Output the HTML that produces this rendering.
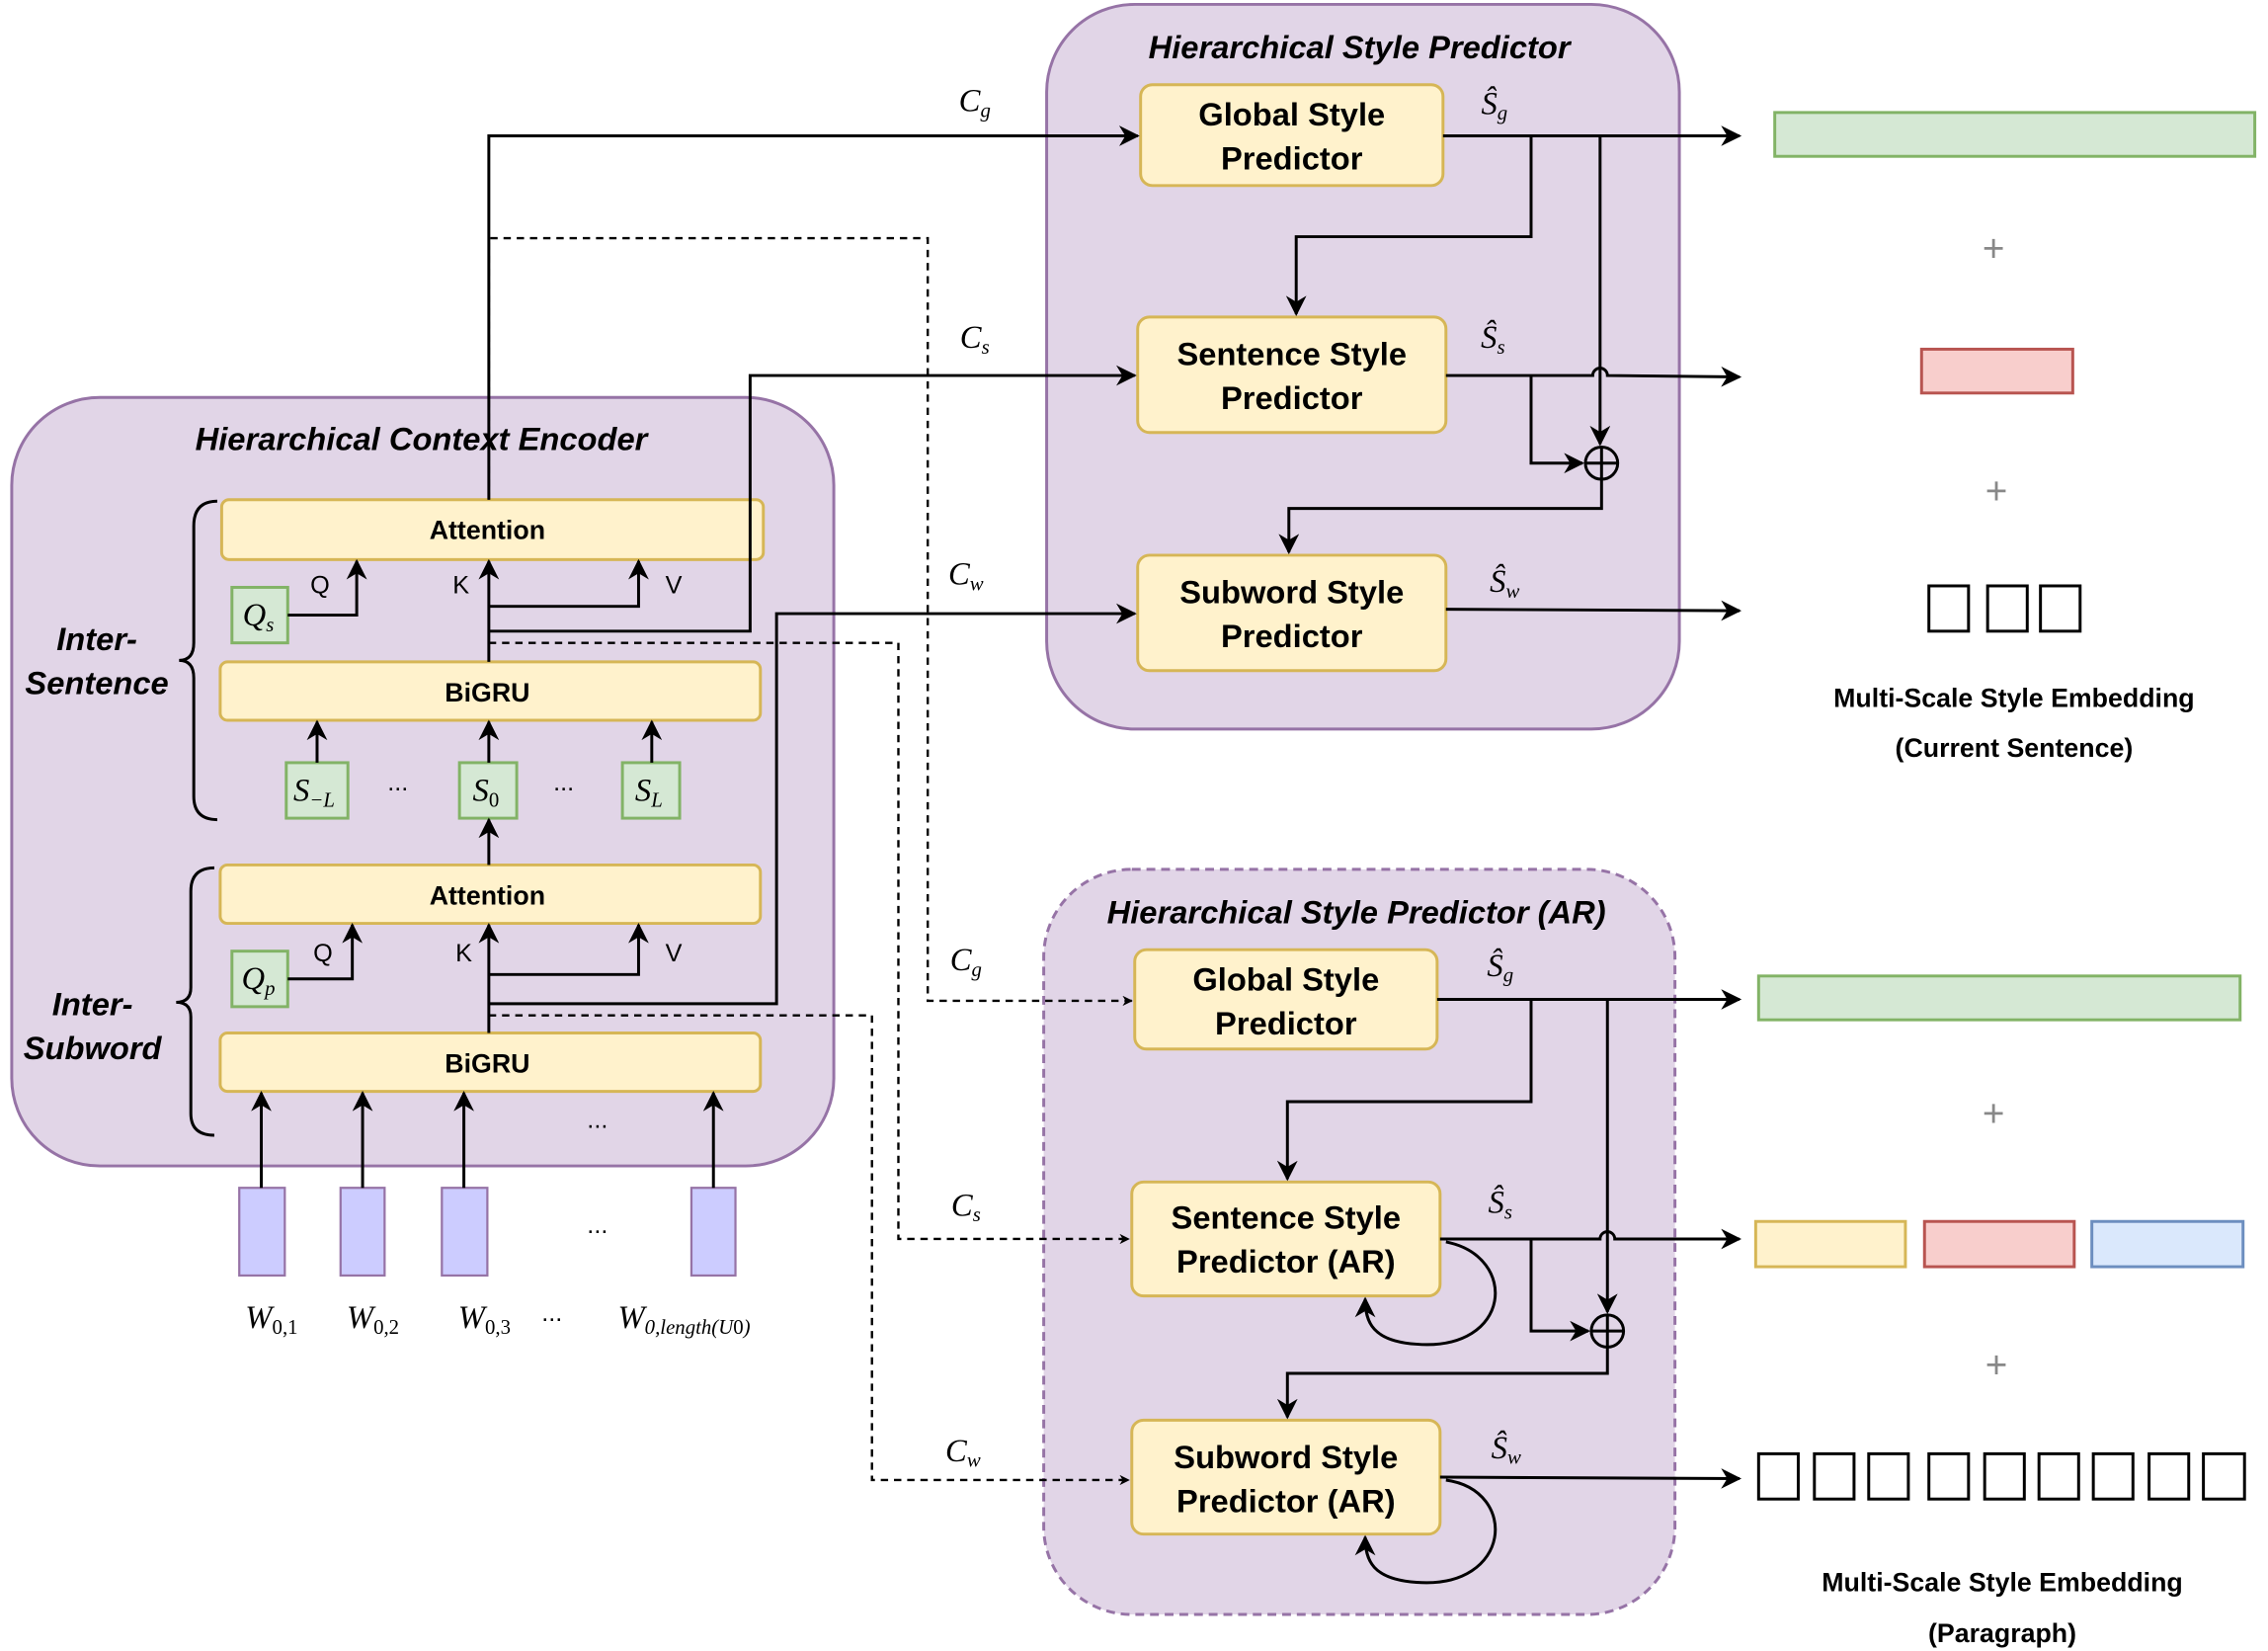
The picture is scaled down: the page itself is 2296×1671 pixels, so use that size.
<!DOCTYPE html>
<html><head><meta charset="utf-8"><style>
html,body{margin:0;padding:0;background:#fff}
svg{display:block}
.b{font-family:"Liberation Sans",sans-serif;font-weight:bold}
.m{font-family:"Liberation Serif",serif;font-style:italic}
</style></head><body>
<svg width="2296" height="1671" viewBox="0 0 1545 1130" preserveAspectRatio="none" xmlns="http://www.w3.org/2000/svg">
<defs>
<marker id="a" viewBox="0 0 10 10" refX="9" refY="5" markerWidth="7" markerHeight="7" orient="auto" markerUnits="userSpaceOnUse"><path d="M0,0 L10,5 L0,10 L3,5 z" fill="#000"/></marker>
<marker id="A" viewBox="0 0 10 10" refX="9" refY="5" markerWidth="14" markerHeight="14" orient="auto" markerUnits="userSpaceOnUse"><path d="M0,0 L10,5 L0,10 L3,5 z" fill="#000"/></marker>
</defs>
<g fill="#e1d5e7" stroke="#9673a6" stroke-width="2">
<rect x="8" y="272" width="560" height="526" rx="60"/>
<rect x="713" y="3" width="431" height="496" rx="60"/>
<rect x="711" y="595" width="430" height="510" rx="60" stroke-dasharray="6,4"/>
</g>
<g class="b" font-style="italic" font-size="22" text-anchor="middle">
<text x="287" y="308">Hierarchical Context Encoder</text>
<text x="926" y="40">Hierarchical Style Predictor</text>
<text x="924" y="632">Hierarchical Style Predictor (AR)</text>
<text x="66" y="445">Inter-</text><text x="66" y="475">Sentence</text>
<text x="63" y="695">Inter-</text><text x="63" y="725">Subword</text>
</g>
<g fill="#fff2cc" stroke="#d6b656" stroke-width="2">
<rect x="151" y="342" width="369" height="41" rx="5"/>
<rect x="150" y="453" width="368" height="40" rx="5"/>
<rect x="150" y="592" width="368" height="40" rx="5"/>
<rect x="150" y="707" width="368" height="40" rx="5"/>
<rect x="777" y="58" width="206" height="69" rx="8"/>
<rect x="775" y="217" width="210" height="79" rx="8"/>
<rect x="775" y="380" width="210" height="79" rx="8"/>
<rect x="773" y="650" width="206" height="68" rx="8"/>
<rect x="771" y="809" width="210" height="78" rx="8"/>
<rect x="771" y="972" width="210" height="78" rx="8"/>
</g>
<g class="b" font-size="18" text-anchor="middle">
<text x="332" y="369">Attention</text><text x="332" y="480">BiGRU</text>
<text x="332" y="619">Attention</text><text x="332" y="734">BiGRU</text>
</g>
<g class="b" font-size="22" text-anchor="middle">
<text x="880" y="86">Global Style</text><text x="880" y="116">Predictor</text>
<text x="880" y="250">Sentence Style</text><text x="880" y="280">Predictor</text>
<text x="880" y="413">Subword Style</text><text x="880" y="443">Predictor</text>
<text x="876" y="678">Global Style</text><text x="876" y="708">Predictor</text>
<text x="876" y="841">Sentence Style</text><text x="876" y="871">Predictor (AR)</text>
<text x="876" y="1005">Subword Style</text><text x="876" y="1035">Predictor (AR)</text>
</g>
<g fill="#d5e8d4" stroke="#82b366" stroke-width="2">
<rect x="158" y="402" width="38" height="38"/><rect x="195" y="522" width="42" height="38"/>
<rect x="313" y="522" width="39" height="38"/><rect x="424" y="522" width="39" height="38"/>
<rect x="158" y="651" width="38" height="38"/>
<rect x="1209" y="77" width="327" height="30"/><rect x="1198" y="668" width="328" height="30"/>
</g>
<g class="m" font-size="22" text-anchor="middle">
<text x="176" y="428">Q<tspan font-size="14" dy="4">s</tspan></text>
<text x="214" y="548">S<tspan font-size="14" dy="4">−L</tspan></text>
<text x="331" y="548">S<tspan font-size="14" dy="4" font-style="normal">0</tspan></text>
<text x="442" y="548">S<tspan font-size="14" dy="4">L</tspan></text>
<text x="176" y="677">Q<tspan font-size="14" dy="4">p</tspan></text>
<text x="185" y="909">W<tspan font-size="14" dy="4" font-style="normal">0,1</tspan></text>
<text x="254" y="909">W<tspan font-size="14" dy="4" font-style="normal">0,2</tspan></text>
<text x="330" y="909">W<tspan font-size="14" dy="4" font-style="normal">0,3</tspan></text>
<text x="466" y="909">W<tspan font-size="14" dy="4">0,length(U<tspan font-style="normal">0</tspan>)</tspan></text>
<text x="664" y="76">C<tspan font-size="14" dy="4">g</tspan></text>
<text x="664" y="238">C<tspan font-size="14" dy="4">s</tspan></text>
<text x="658" y="400">C<tspan font-size="14" dy="4">w</tspan></text>
<text x="658" y="664">C<tspan font-size="14" dy="4">g</tspan></text>
<text x="658" y="832">C<tspan font-size="14" dy="4">s</tspan></text>
<text x="656" y="1000">C<tspan font-size="14" dy="4">w</tspan></text>
<text x="1018" y="78">Ŝ<tspan font-size="14" dy="4">g</tspan></text>
<text x="1017" y="238">Ŝ<tspan font-size="14" dy="4">s</tspan></text>
<text x="1025" y="405">Ŝ<tspan font-size="14" dy="4">w</tspan></text>
<text x="1022" y="668">Ŝ<tspan font-size="14" dy="4">g</tspan></text>
<text x="1022" y="830">Ŝ<tspan font-size="14" dy="4">s</tspan></text>
<text x="1026" y="998">Ŝ<tspan font-size="14" dy="4">w</tspan></text>
</g>
<g font-family="Liberation Sans,sans-serif" font-size="17" text-anchor="middle">
<text x="218" y="406">Q</text><text x="314" y="406">K</text><text x="459" y="406">V</text>
<text x="220" y="658">Q</text><text x="316" y="658">K</text><text x="459" y="658">V</text>
<text x="271" y="541">...</text><text x="384" y="541">...</text><text x="407" y="772">...</text><text x="407" y="844">...</text><text x="376" y="904">...</text>
</g>
<g fill="#ccccff" stroke="#9673a6" stroke-width="1.5">
<rect x="163" y="813" width="31" height="60"/><rect x="232" y="813" width="30" height="60"/>
<rect x="301" y="813" width="31" height="60"/><rect x="471" y="813" width="30" height="60"/>
</g>
<g fill="none" stroke="#000" stroke-width="2">
<path d="M148,343 Q132,343 132,360 L132,440 Q132,452 122,452 Q132,452 132,464 L132,545 Q132,561 148,561"/>
<path d="M146,594 Q130,594 130,610 L130,676 Q130,686 120,686 Q130,686 130,696 L130,762 Q130,777 146,777"/>
</g>
<g fill="none" stroke="#000" stroke-width="2" marker-end="url(#A)">
<path d="M333,342 L333,93 L775,93"/>
<path d="M333,453 L333,384"/>
<path d="M333,415 L435,415 L435,384"/>
<path d="M196,421 L243,421 L243,384"/>
<path d="M333,432 L511,432 L511,257 L773,257"/>
<path d="M333,687 L529,687 L529,420 L773,420"/>
<path d="M333,707 L333,633"/>
<path d="M333,667 L435,667 L435,633"/>
<path d="M196,670 L240,670 L240,633"/>
<path d="M333,592 L333,561"/>
<path d="M216,522 L216,494"/><path d="M333,522 L333,494"/><path d="M444,522 L444,494"/>
<path d="M178,813 L178,748"/><path d="M247,813 L247,748"/><path d="M316,813 L316,748"/><path d="M486,813 L486,748"/>
<path d="M983,93 L1185,93"/>
<path d="M1043,93 L1043,162 L883,162 L883,215"/>
<path d="M1090,93 L1090,304"/>
<path d="M985,257 L1085,257 A5,5 0 0 1 1095,257 L1185,258"/>
<path d="M1043,257 L1043,317 L1078,317"/>
<path d="M1091,328 L1091,348 L878,348 L878,378"/>
<path d="M985,417 L1185,418"/>
<path d="M979,684 L1185,684"/>
<path d="M1043,684 L1043,754 L877,754 L877,807"/>
<path d="M1095,684 L1095,898"/>
<path d="M981,848 L1090,848 A5,5 0 0 1 1100,848 L1185,848"/>
<path d="M1043,848 L1043,911 L1082,911"/>
<path d="M1095,922 L1095,940 L877,940 L877,970"/>
<path d="M981,1011 L1185,1012"/>
<path d="M985,850 C1035,860 1030,925 965,920 C935,918 930,905 930,889"/>
<path d="M985,1013 C1035,1020 1030,1088 965,1083 C935,1081 930,1068 930,1052"/>
</g>
<g fill="none" stroke="#000" stroke-width="1.6" stroke-dasharray="5,4">
<path d="M333,342 L333,163 L632,163 L632,685 L771,685" marker-end="url(#a)"/>
<path d="M333,440 L612,440 L612,848 L769,848" marker-end="url(#a)"/>
<path d="M333,695 L594,695 L594,1013 L769,1013" marker-end="url(#a)"/>
</g>
<g fill="none" stroke="#000" stroke-width="2">
<circle cx="1091" cy="317" r="11"/><path d="M1080,317h22M1091,306v22"/>
<circle cx="1095" cy="911" r="11"/><path d="M1084,911h22M1095,900v22"/>
</g>
<rect x="1309" y="239" width="103" height="30" fill="#f8cecc" stroke="#b85450" stroke-width="2"/>
<rect x="1196" y="836" width="102" height="31" fill="#fff2cc" stroke="#d6b656" stroke-width="2"/>
<rect x="1311" y="836" width="102" height="31" fill="#f8cecc" stroke="#b85450" stroke-width="2"/>
<rect x="1425" y="836" width="103" height="31" fill="#dae8fc" stroke="#6c8ebf" stroke-width="2"/>
<g fill="#fff" stroke="#000" stroke-width="2">
<rect x="1314" y="401" width="27" height="31"/><rect x="1354" y="401" width="27" height="31"/><rect x="1390" y="401" width="27" height="31"/>
<rect x="1198" y="995" width="27" height="31"/><rect x="1236" y="995" width="27" height="31"/><rect x="1273" y="995" width="27" height="31"/>
<rect x="1314" y="995" width="27" height="31"/><rect x="1352" y="995" width="27" height="31"/><rect x="1389" y="995" width="27" height="31"/>
<rect x="1426" y="995" width="27" height="31"/><rect x="1464" y="995" width="27" height="31"/><rect x="1501" y="995" width="28" height="31"/>
</g>
<g font-family="Liberation Sans,sans-serif" font-size="26" fill="#888" text-anchor="middle">
<text x="1358" y="179">+</text><text x="1360" y="345">+</text><text x="1358" y="771">+</text><text x="1360" y="943">+</text>
</g>
<g class="b" font-size="18" text-anchor="middle">
<text x="1372" y="484">Multi-Scale Style Embedding</text><text x="1372" y="518">(Current Sentence)</text>
<text x="1364" y="1089">Multi-Scale Style Embedding</text><text x="1364" y="1124">(Paragraph)</text>
</g>
</svg>
</body></html>
